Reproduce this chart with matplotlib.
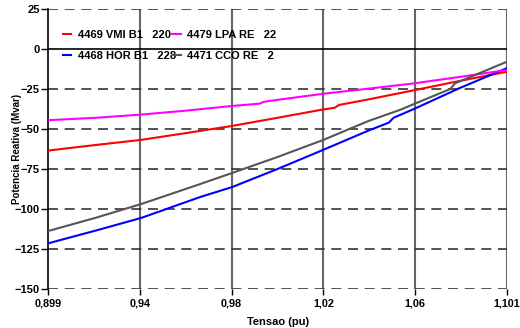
import numpy as np
import matplotlib.pyplot as plt

plt.rcParams['font.family'] = ['Liberation Sans', 'DejaVu Sans']
plt.rcParams['font.weight'] = 'bold'

# curvas potencia reativa x tensao
x_vmi = [0.899, 0.92, 0.94, 0.96, 0.98, 1.00, 1.02, 1.025, 1.027, 1.04, 1.06, 1.08, 1.101]
q_vmi = [-63.5, -60.0, -56.8, -52.5, -48.1, -43.0, -37.8, -36.8, -35.0, -31.5, -25.8, -20.0, -14.2]

x_hor = [0.899, 0.92, 0.94, 0.966, 0.98, 1.00, 1.02, 1.04, 1.049, 1.051, 1.06, 1.08, 1.101]
q_hor = [-121.5, -113.5, -105.6, -92.5, -86.3, -75.0, -63.1, -51.0, -46.0, -43.0, -37.5, -24.5, -11.9]

x_lpa = [0.899, 0.92, 0.94, 0.96, 0.98, 0.992, 0.994, 1.00, 1.02, 1.04, 1.06, 1.08, 1.101]
q_lpa = [-44.5, -43.0, -41.0, -38.5, -35.6, -34.2, -33.0, -31.8, -28.0, -24.8, -21.5, -17.5, -13.1]

x_cco = [0.899, 0.92, 0.94, 0.966, 0.98, 1.00, 1.02, 1.04, 1.054, 1.06, 1.076, 1.078, 1.101]
q_cco = [-113.8, -105.5, -96.9, -84.4, -77.5, -67.5, -56.9, -45.0, -38.0, -34.4, -25.0, -21.5, -7.9]

labels = ['4469 VMI B1   220', '4468 HOR B1   228', '4479 LPA RE   22', '4471 CCO RE   2']
cores = ['#ff0000', '#0000ff', '#ff00ff', '#555555']

x_ticks = np.linspace(0.899, 1.101, 6)
x_ticklabels = ['0,899', '0,94', '0,98', '1,02', '1,06', '1,101']
y_ticks = [25, 0, -25, -50, -75, -100, -125, -150]

fig = plt.figure(figsize=(5.2, 3.28), dpi=100)
ax = fig.add_axes([0.0923, 0.119, 0.883, 0.8536])

for xt in x_ticks[1:]:
    ax.axvline(xt, color='#666666', lw=1.5, zorder=1)
for yt in y_ticks:
    if yt == 0:
        ax.axhline(0, color='black', lw=1.2, zorder=1)
    else:
        ax.axhline(yt, color='#333333', lw=1.2, ls=(0, (6, 4)), zorder=1)

ax.plot(x_vmi, q_vmi, color=cores[0], lw=1.5, label=labels[0], zorder=3)
ax.plot(x_hor, q_hor, color=cores[1], lw=1.5, label=labels[1], zorder=3)
ax.plot(x_lpa, q_lpa, color=cores[2], lw=1.5, label=labels[2], zorder=3)
ax.plot(x_cco, q_cco, color=cores[3], lw=1.5, label=labels[3], zorder=3)

ax.set_xlim(0.899, 1.101)
ax.set_ylim(-150, 25)
ax.set_xticks(x_ticks)
ax.set_xticklabels(x_ticklabels)
ax.set_yticks(y_ticks)
ax.tick_params(axis='y', labelsize=8, length=5, width=1, direction='out', pad=1)
ax.tick_params(axis='x', labelsize=7.8, length=4, width=1, direction='out', pad=3)

for s in ['top', 'right', 'bottom']:
    ax.spines[s].set_visible(False)
ax.spines['left'].set_linewidth(1.2)

ax.set_xlabel('Tensao (pu)', fontsize=8, fontweight='bold', labelpad=6)
ax.set_ylabel('Potencia Reativa (Mvar)', fontsize=7, fontweight='bold')
ax.yaxis.set_label_coords(-0.057, 0.5)

leg = ax.legend(ncol=2, loc='upper left', bbox_to_anchor=(0.022, 0.94), frameon=False,
                fontsize=8, handlelength=0.75, handletextpad=0.6, columnspacing=-0.3,
                labelspacing=0.95, borderaxespad=0)

fig.savefig('out.png', dpi=100)
